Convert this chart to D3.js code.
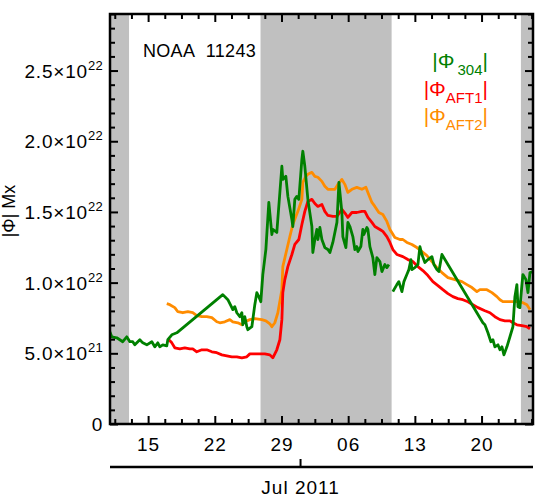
<!DOCTYPE html>
<html><head><meta charset="utf-8">
<script src="https://cdn.jsdelivr.net/npm/d3@7"></script>
<style>
body{margin:0;background:#fff}
svg{display:block}
text{font-family:"Liberation Sans",Arial,Helvetica,sans-serif;fill:#000}
</style>
</head><body>
<svg id="c" width="548" height="499"></svg>
<script>
// Time in days counted from 2011-06-00 (so 15 = 15 Jun, 31 = 1 Jul); flux in units of 1e21 Mx
const t304 = [10.98,11.19,11.71,12.03,12.34,12.76,13.08,13.39,13.60,13.92,14.13,14.44,14.86,15.39,15.70,16.02,16.23,16.54,16.96,17.07,17.49,18.01,22.84,23.37,23.79,23.89,24.10,24.31,24.63,24.84,24.94,25.15,25.36,25.47,25.89,26.20,26.41,26.62,26.83,27.04,27.36,27.67,27.99,28.09,28.51,29.04,29.14,29.46,29.67,30.09,30.19,30.40,30.61,30.82,31.14,31.24,31.45,31.77,32.19,32.29,32.50,32.71,32.82,33.03,33.24,33.55,33.87,34.08,34.39,34.82,35.03,35.34,35.44,35.76,35.97,36.18,36.49,36.70,36.91,37.02,37.33,37.54,37.65,37.96,38.07,38.28,38.59,38.80,39.01,39.33,39.54,39.85,40.06,40.27,40.48,40.69,41.11,41.32,41.64,41.85,42.16,42.37,42.59,42.69,43.00,43.32,43.53,43.74,44.05,44.37,44.79,45.00,45.31,45.52,45.84,50.14,50.35,50.67,50.98,51.19,51.40,51.72,51.93,52.14,52.35,52.66,52.98,53.29,53.50,53.71,53.82,54.03,54.24,54.34,54.66,54.87,55.08,55.39];
const v304 = [6.52,6.17,6.10,5.96,5.82,6.17,5.82,5.82,5.60,5.82,5.96,5.74,5.60,5.82,5.46,5.74,5.46,5.60,5.53,5.96,6.31,6.45,9.15,8.79,8.23,8.09,8.30,7.87,7.59,7.87,7.02,7.59,6.88,6.67,6.88,8.44,9.29,9.01,8.65,10.57,12.34,15.67,13.40,13.76,13.55,18.23,17.30,17.52,16.10,14.47,13.97,15.89,16.10,15.89,18.72,19.29,18.23,15.89,13.97,12.13,13.05,13.76,13.05,13.90,13.05,12.48,12.34,12.13,12.84,14.26,17.09,14.96,13.26,12.48,14.26,13.97,13.26,12.34,12.55,12.20,12.55,13.76,13.40,13.90,13.76,12.55,11.77,10.57,11.77,11.49,10.78,11.28,11.06,11.28,null,9.36,9.86,10.07,9.36,10.07,10.57,10.92,11.63,10.92,11.06,11.28,12.55,11.99,11.42,11.63,11.84,11.28,10.92,10.78,11.99,7.16,7.02,6.45,5.82,5.96,5.46,5.60,5.25,5.46,4.89,5.46,6.17,6.88,9.01,9.86,8.30,8.23,9.86,10.57,10.21,9.29,10.71,10.78];

const tAFT1 = [17.07,17.49,17.80,18.33,18.85,19.38,19.69,20.11,20.64,21.16,21.69,22.21,22.74,23.26,23.79,24.31,24.84,25.36,25.68,26.52,27.25,27.78,28.09,28.51,28.83,29.04,29.14,29.35,29.67,30.09,30.40,30.82,31.14,31.45,31.77,32.19,32.50,32.82,33.24,33.55,33.87,34.39,34.82,35.34,35.76,35.97,36.39,36.91,37.44,37.75,38.07,38.49,38.80,39.33,39.64,40.06,40.38,40.69,41.11,41.74,42.27,42.79,43.32,43.84,44.37,44.89,45.42,45.94,46.47,46.99,47.52,48.04,48.57,49.09,49.62,50.35,50.88,51.40,51.93,52.45,52.98,53.29,53.71,54.24,54.76,55.08];
const vAFT1 = [6.03,5.74,5.39,5.32,5.39,5.32,5.32,5.11,5.25,5.25,5.11,5.04,4.89,4.82,4.75,4.75,4.68,4.75,4.96,4.96,4.96,4.89,4.68,5.25,5.96,7.38,9.29,10.21,11.13,11.99,12.70,13.05,14.11,15.04,15.74,15.89,15.60,15.39,15.53,15.04,14.75,14.68,14.68,15.18,14.82,14.61,14.96,14.96,15.04,15.04,14.61,14.26,13.97,13.76,13.62,13.26,12.84,12.34,11.99,11.84,11.63,11.49,11.13,10.85,10.50,10.07,9.79,9.50,9.22,9.01,8.87,8.79,8.65,8.44,8.23,8.01,7.87,7.59,7.38,7.30,7.30,7.16,7.02,6.95,6.88,6.74];

const tAFT2 = [16.96,17.28,17.80,18.12,18.64,19.17,19.69,20.11,20.64,21.16,21.69,22.21,22.53,23.05,23.58,23.89,24.42,24.84,25.15,25.68,26.20,26.94,27.36,27.78,27.99,28.30,28.62,29.04,29.14,29.56,29.88,30.19,30.72,31.14,31.24,31.56,31.77,32.19,32.50,32.82,33.24,33.55,33.87,34.39,34.61,34.92,35.34,35.65,35.97,36.39,36.91,37.44,37.86,38.07,38.49,38.80,39.22,39.64,40.06,40.38,40.90,41.43,41.74,42.16,42.69,43.21,43.74,44.26,44.79,45.31,45.84,46.47,47.20,47.94,48.46,48.99,49.51,49.83,50.56,51.09,51.61,51.93,52.24,52.98,53.71,54.34,54.76,55.08];
const vAFT2 = [8.51,8.44,8.23,7.94,7.87,7.94,7.87,7.66,7.59,7.59,7.52,7.23,7.16,7.23,7.38,7.23,7.16,7.02,7.23,7.38,7.45,7.38,7.30,7.09,6.88,7.16,7.87,9.50,11.13,12.34,13.26,14.11,15.04,15.89,17.09,17.52,17.66,17.80,17.52,17.45,17.16,16.81,16.60,16.60,16.60,16.95,17.30,16.95,16.38,16.60,16.74,16.60,16.74,16.38,15.67,15.39,14.96,14.82,14.33,13.76,13.19,13.05,13.05,12.84,12.70,12.48,12.20,11.91,11.49,11.06,10.71,10.35,10.21,10.07,9.86,9.65,9.36,9.50,9.50,9.29,9.01,8.79,8.65,8.65,8.65,8.58,8.44,8.09];

// shaded (far-side) intervals, days
const shadeStart = [11.0, 26.80, 54.13];
const shadeEnd   = [13.0, 40.56, 55.40];

const xDomainDays = [11.0, 55.40];
const xMajorDays = [15, 22, 29, 36, 43, 50];
const xMajorLabels = ["15", "22", "29", "06", "13", "20"];
const xMinorStep = 1.75;
const monthTickDay = 31;
const monthLabel = "Jul 2011";

const yMax = 29.0;
const yMajor = [0, 5, 10, 15, 20, 25];
const yMantissa = ["0", "5.0\u00d710", "1.0\u00d710", "1.5\u00d710", "2.0\u00d710", "2.5\u00d710"];
const yExponent = ["", "21", "22", "22", "22", "22"];
const yMinorStep = 1;

const seriesNames = ["304", "AFT1", "AFT2"];
const seriesColors = ["#008000", "#ff0000", "#ff8c00"];
const regionLabel = "NOAA\u00a0\u00a011243";
const yTitle = "|\u03a6| Mx";

// ---------------------------------------------------------------
const svg = d3.select("#c");
const L = 110, R = 533, T = 14, B = 424;
const day0 = Date.UTC(2011, 4, 31);
const toDate = d => new Date(day0 + d * 864e5);

const x = d3.scaleUtc().domain(xDomainDays.map(toDate)).range([L, R]);
const y = d3.scaleLinear().domain([0, yMax]).range([B, T]);

svg.append("defs").append("clipPath").attr("id", "clip")
  .append("rect").attr("x", L).attr("y", T).attr("width", R - L).attr("height", B - T);

// shaded bands
svg.append("g").selectAll("rect").data(d3.range(shadeStart.length)).join("rect")
  .attr("x", i => x(toDate(shadeStart[i])))
  .attr("width", i => x(toDate(shadeEnd[i])) - x(toDate(shadeStart[i])))
  .attr("y", T).attr("height", B - T).attr("fill", "#c0c0c0");

// series
const mk = (t, v) => t.map((d, i) => ({date: toDate(d), v: v[i]}));
const series = [mk(t304, v304), mk(tAFT1, vAFT1), mk(tAFT2, vAFT2)];
const line = d3.line().defined(d => d.v != null).x(d => x(d.date)).y(d => y(d.v));
const gl = svg.append("g").attr("clip-path", "url(#clip)");
[2, 1, 0].forEach(i => {
  gl.append("path").datum(series[i]).attr("d", line)
    .attr("fill", "none").attr("stroke", seriesColors[i])
    .attr("stroke-width", 2.8).attr("stroke-linejoin", "round");
});

// ticks
const majorDates = xMajorDays.map(toDate);
const minorDays = [];
for (let d = xMajorDays[0] - 2 * xMinorStep; d <= xDomainDays[1]; d += xMinorStep) {
  if (d >= xDomainDays[0] && !xMajorDays.some(m => Math.abs(m - d) < 1e-6)) minorDays.push(d);
}
const minorDates = minorDays.map(toDate);
const yMinor = d3.range(0, yMax + 1e-9, yMinorStep).filter(v => !yMajor.includes(v));

function styleAxis(g) {
  g.select(".domain").remove();
  g.selectAll(".tick line").attr("stroke", "#000").attr("stroke-width", 2);
  g.selectAll(".tick text").remove();
}
const axes = [
  [d3.axisBottom(x).tickValues(majorDates).tickSizeInner(-8), `translate(0,${B})`],
  [d3.axisBottom(x).tickValues(minorDates).tickSizeInner(-5), `translate(0,${B})`],
  [d3.axisTop(x).tickValues(majorDates).tickSizeInner(-8), `translate(0,${T})`],
  [d3.axisTop(x).tickValues(minorDates).tickSizeInner(-5), `translate(0,${T})`],
  [d3.axisLeft(y).tickValues(yMajor).tickSizeInner(-8), `translate(${L},0)`],
  [d3.axisLeft(y).tickValues(yMinor).tickSizeInner(-5), `translate(${L},0)`],
  [d3.axisRight(y).tickValues(yMajor).tickSizeInner(-8), `translate(${R},0)`],
  [d3.axisRight(y).tickValues(yMinor).tickSizeInner(-5), `translate(${R},0)`]
];
axes.forEach(([ax, tr]) => svg.append("g").attr("transform", tr).call(ax.tickSizeOuter(0)).call(styleAxis));

// frame
svg.append("rect").attr("x", L).attr("y", T).attr("width", R - L).attr("height", B - T)
  .attr("fill", "none").attr("stroke", "#000").attr("stroke-width", 2.5);

// x labels
svg.append("g").selectAll("text").data(majorDates).join("text")
  .attr("x", d => x(d) + 0.5).attr("y", 451).attr("text-anchor", "middle")
  .attr("font-size", 19).attr("letter-spacing", 1).text((d, i) => xMajorLabels[i]);

// second (month) axis
svg.append("line").attr("x1", L).attr("x2", R).attr("y1", 467).attr("y2", 467)
  .attr("stroke", "#000").attr("stroke-width", 2.5);
svg.append("line").attr("x1", x(toDate(monthTickDay))).attr("x2", x(toDate(monthTickDay)))
  .attr("y1", 467).attr("y2", 459).attr("stroke", "#000").attr("stroke-width", 2);
svg.append("text").attr("x", x(toDate(monthTickDay))).attr("y", 494).attr("text-anchor", "middle")
  .attr("font-size", 19).attr("letter-spacing", 1).text(monthLabel);

// y labels
const yl = svg.append("g").selectAll("text").data(yMajor).join("text")
  .attr("x", 103).attr("y", d => y(d) + 7).attr("text-anchor", "end")
  .attr("font-size", 19).attr("letter-spacing", 0.8);
yl.append("tspan").text((d, i) => yMantissa[i]);
yl.append("tspan").attr("font-size", 13).attr("dy", -8).attr("letter-spacing", 0.3).text((d, i) => yExponent[i]);

// y title
svg.append("text").attr("transform", "translate(15,211) rotate(-90)")
  .attr("text-anchor", "middle").attr("font-size", 18).text(yTitle);

// region label
svg.append("text").attr("x", 143).attr("y", 57).attr("font-size", 18).attr("letter-spacing", 0.3).text(regionLabel);

// legend
seriesNames.forEach((n, i) => {
  const t = svg.append("text").attr("x", 488).attr("y", 68 + i * 27.5)
    .attr("text-anchor", "end").attr("font-size", 21).style("fill", seriesColors[i]);
  t.append("tspan").text("|\u03a6");
  t.append("tspan").attr("font-size", 15).attr("dy", 7).attr("dx", i === 0 ? 3 : 0).text(n);
  t.append("tspan").attr("dy", -7).text("|");
});
</script>
</body></html>
